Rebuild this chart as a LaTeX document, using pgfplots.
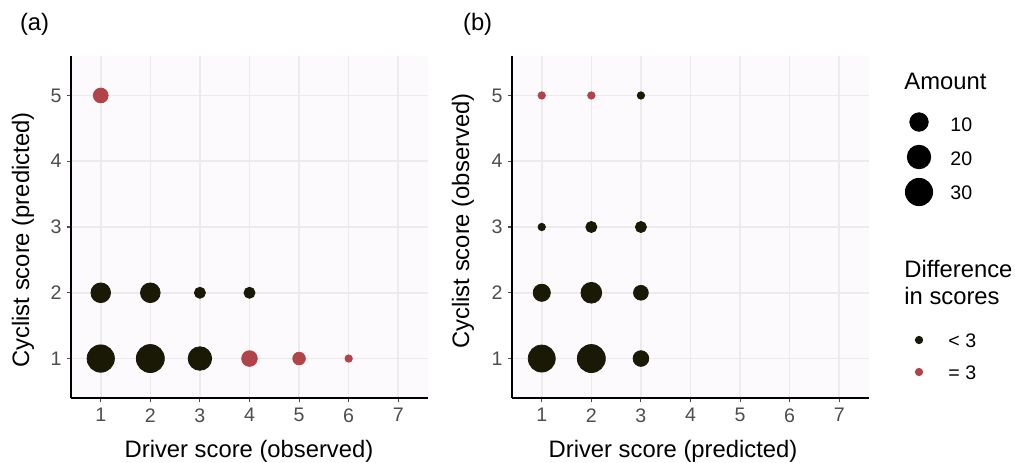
\documentclass[border=0pt]{standalone}
\usepackage{fontspec}
\setmainfont{Liberation Sans}
\usepackage{pgfplots}
\pgfplotsset{compat=1.18}
\usepackage{pgfplotstable}

\definecolor{cdark}{RGB}{25,25,5}
\definecolor{cred}{RGB}{176,68,72}
\definecolor{panelbg}{RGB}{253,250,253}
\definecolor{gridc}{RGB}{235,235,235}
\definecolor{tickc}{RGB}{77,77,77}

\newcommand{\ticksize}{\fontsize{9.8}{11}\selectfont}
\newcommand{\titlesize}{\fontsize{11.9}{14}\selectfont}

% panel (a): x = driver observed, y = cyclist predicted, n = amount
\pgfplotstableread{
x y n
1 1 30
2 1 32
3 1 20
1 2 12
2 2 12
3 2 2
4 2 2
}\adark
\pgfplotstableread{
x y n
4 1 6
5 1 3
6 1 1
1 5 5
}\ared
% panel (b): x = driver predicted, y = cyclist observed
\pgfplotstableread{
x y n
1 1 29
2 1 32
3 1 6
1 2 8
2 2 14
3 2 5
1 3 1
2 3 2
3 3 2
3 5 1
}\bdark
\pgfplotstableread{
x y n
1 5 1
2 5 1
}\bred

\pgfplotsset{
  bubble/.style={scatter, only marks, mark=*, point meta=\thisrow{n},
    scatter/use mapped color={draw=#1, fill=#1},
    visualization depends on={1.85+0.925*sqrt(\thisrow{n}-1) \as \bubr},
    scatter/@pre marker code/.append style={/tikz/mark size=\bubr pt, /tikz/line width=0pt}},
  panel/.style={scale only axis, width=178.5pt, height=171pt,
    xmin=0.4, xmax=7.6, ymin=0.4, ymax=5.6,
    axis lines=left, axis line style={-, black, line width=0.6pt},
    axis background/.style={fill=panelbg},
    xtick={1,...,7}, ytick={1,...,5},
    grid=major, major grid style={gridc, line width=0.8pt},
    tick align=outside, major tick length=2.2pt,
    tick style={tickc, line width=0.55pt},
    /pgf/number format/assume math mode=true,
    ticklabel style={font=\ticksize, text=tickc, inner sep=0pt},
    xticklabel style={yshift=-2.8pt},
    yticklabel style={xshift=-2.3pt}},
}

\begin{document}
\begin{tikzpicture}
\useasboundingbox (0,0) rectangle (507.5pt,231pt);

\begin{axis}[panel, at={(35.5pt,32pt)}, anchor=south west]
\addplot[bubble=cdark] table {\adark};
\addplot[bubble=cred] table {\ared};
\end{axis}

\begin{axis}[panel, at={(256pt,32pt)}, anchor=south west]
\addplot[bubble=cdark] table {\bdark};
\addplot[bubble=cred] table {\bred};
\end{axis}

% overlay in pixel units of the reference, for titles and legends
\begin{axis}[at={(0,0)}, anchor=south west, scale only axis,
  width=507.5pt, height=231pt, xmin=0, xmax=1015, ymin=0, ymax=462,
  y dir=reverse, hide axis, clip=false]
\addplot[bubble=black] table {
x y n
919 122 10
919 157 20
919 192 30
};
\addplot[bubble=cdark] table {
x y n
919 340 1
};
\addplot[bubble=cred] table {
x y n
919 372 1
};
\node[anchor=base west, font=\titlesize] at (axis cs:13,30) {(a)};
\node[anchor=base west, font=\titlesize] at (axis cs:456,30) {(b)};
\node[anchor=base, font=\titlesize] at (axis cs:249,457) {Driver score (observed)};
\node[anchor=base, font=\titlesize] at (axis cs:673,457) {Driver score (predicted)};
\node[anchor=base, rotate=90, font=\titlesize] at (axis cs:29,240) {Cyclist score (predicted)};
\node[anchor=base, rotate=90, font=\titlesize] at (axis cs:469,221) {Cyclist score (observed)};
\node[anchor=base west, font=\titlesize, inner sep=0pt] at (axis cs:904,89) {Amount};
\node[anchor=base west, font=\ticksize, inner sep=0pt] at (axis cs:950,131) {10};
\node[anchor=base west, font=\ticksize, inner sep=0pt] at (axis cs:950,165) {20};
\node[anchor=base west, font=\ticksize, inner sep=0pt] at (axis cs:950,199) {30};
\node[anchor=base west, font=\titlesize, inner sep=0pt] at (axis cs:904,277) {Difference};
\node[anchor=base west, font=\titlesize, inner sep=0pt] at (axis cs:904,304) {in scores};
\node[anchor=base west, font=\ticksize, inner sep=0pt] at (axis cs:948,347) {< 3};
\node[anchor=base west, font=\ticksize, inner sep=0pt] at (axis cs:948,379) {= 3};
\end{axis}
\end{tikzpicture}
\end{document}
